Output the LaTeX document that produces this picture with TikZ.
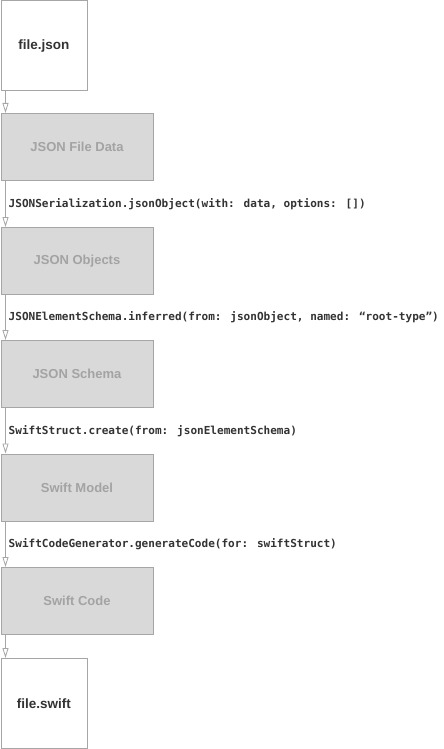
\documentclass[tikz,border=0pt]{standalone}
\usepackage{fontspec}
\setmainfont{Liberation Sans}
\newfontfamily\codefont{DejaVu Sans Mono}
\usetikzlibrary{arrows.meta}
\definecolor{boxline}{HTML}{A6A6A6}
\definecolor{boxfill}{HTML}{D9D9D9}
\definecolor{boxtext}{HTML}{A3A3A3}
\definecolor{darktext}{HTML}{333333}
\begin{document}
\begin{tikzpicture}[x=1pt,y=-1pt,
  filebox/.style={draw=boxline, line width=0.9pt, fill=white, minimum width=86pt, minimum height=90pt, anchor=north west, inner sep=0pt, font=\fontsize{13.5}{16}\selectfont\bfseries, text=darktext},
  stagebox/.style={draw=boxline, line width=0.9pt, fill=boxfill, minimum width=152pt, minimum height=67pt, anchor=north west, inner sep=0pt, font=\fontsize{13}{16}\selectfont\bfseries, text=boxtext},
  flow/.style={draw=boxline, line width=0.8pt, -{Triangle[open, length=10pt, width=6pt]}},
  codelabel/.style={anchor=west, inner sep=0pt, font=\codefont\fontsize{11.05}{13}\selectfont\bfseries, text=darktext}
]
\useasboundingbox (0,0) rectangle (444,749);
\node[filebox] (fj) at (0.5,0.5) {file.json};
\node[stagebox] (d1) at (0.5,113) {JSON File Data};
\node[stagebox] (d2) at (0.5,227) {JSON Objects};
\node[stagebox] (d3) at (0.5,340) {JSON Schema};
\node[stagebox] (d4) at (0.5,453.5) {Swift Model};
\node[stagebox] (d5) at (0.5,567) {Swift Code};
\node[filebox] (fs) at (0.5,658) {file.swift};

\coordinate (a0) at (5.5,90.5);
\draw[flow] (fj.south west -| a0) -- (d1.north west -| a0);
\draw[flow] (d1.south west -| a0) -- (d2.north west -| a0);
\draw[flow] (d2.south west -| a0) -- (d3.north west -| a0);
\draw[flow] (d3.south west -| a0) -- (d4.north west -| a0);
\draw[flow] (d4.south west -| a0) -- (d5.north west -| a0);
\draw[flow] (d5.south west -| a0) -- (fs.north west -| a0);

\node[codelabel] (l1) at (8.5,204) {JSONSerialization.jsonObject(with: data, options: [])};
\node[codelabel] (l2) at (8.5,317.5) {JSONElementSchema.inferred(from: jsonObject, named: “root-type”)};
\node[codelabel] (l3) at (8.5,431) {SwiftStruct.create(from: jsonElementSchema)};
\node[codelabel] (l4) at (8.5,544.5) {SwiftCodeGenerator.generateCode(for: swiftStruct)};
\end{tikzpicture}
\end{document}
